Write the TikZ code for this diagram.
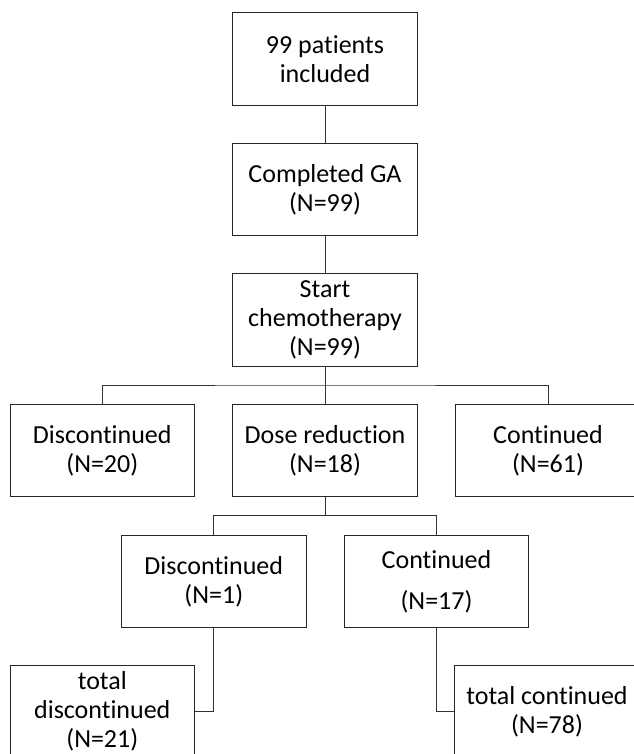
\documentclass[tikz,border=0pt]{standalone}
\usepackage{fontspec}
\setmainfont{Carlito}[Ligatures={NoCommon}]
\begin{document}
\begin{tikzpicture}[x=1pt,y=-1pt,
  box/.style={draw=black!85, line width=0.9pt, minimum width=184.5pt, minimum height=92.3pt,
    inner sep=0pt, align=center, font=\fontsize{26}{29}\selectfont},
  conn/.style={draw=black!80, line width=0.9pt}]
\useasboundingbox (0,0) rectangle (633,754);
\node[box] (b1) at (325,58.9) {99 patients\\included};
\node[box] (b2) at (325,189.3) {Completed GA\\(N=99)};
\node[box] (b3) at (325,320) {Start\\chemotherapy\\(N=99)};
\node[box] (l2) at (102.3,450.5) {Discontinued\\(N=20)};
\node[box] (m2) at (325,450.5) {Dose reduction\\(N=18)};
\node[box] (r2) at (548,450.5) {Continued\\(N=61)};
\node[box] (a3) at (213.8,581.3) {Discontinued\\(N=1)};
\node[box] (c3) at (436.5,581.3) {Continued\\[12pt](N=17)};
\node[box] (bl) at (102.3,711.7) {total\\discontinued\\(N=21)};
\node[box] (br) at (547,711.7) {total continued\\(N=78)};
\coordinate (j1) at (325,385);
\coordinate (j2) at (325,515.7);
\draw[conn] (b1) -- (b2);
\draw[conn] (b2) -- (b3);
\draw[conn] (b3.south) -- (m2.north);
\draw[conn] (l2.north) |- (j1) -| (r2.north);
\draw[conn] (m2.south) -- (j2);
\draw[conn] (a3.north) |- (j2) -| (c3.north);
\draw[conn] (a3.south) |- (bl.east);
\draw[conn] (c3.south) |- (br.west);
\end{tikzpicture}
\end{document}
